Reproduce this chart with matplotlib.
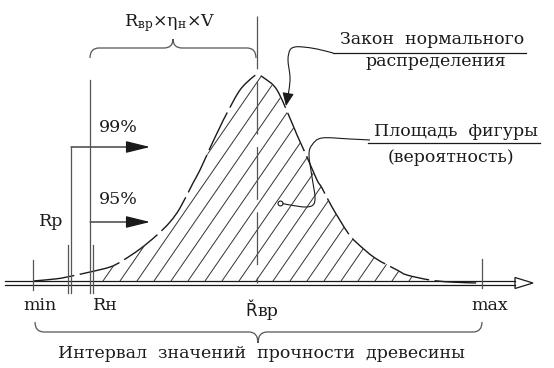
import numpy as np
import matplotlib
matplotlib.use("Agg")
import matplotlib.pyplot as plt
from matplotlib.path import Path
from matplotlib.patches import PathPatch, Polygon, FancyArrowPatch
from matplotlib.collections import LineCollection

plt.rcParams["lines.scale_dashes"] = False
plt.rcParams["mathtext.fontset"] = "custom"
plt.rcParams["mathtext.rm"] = "DejaVu Serif"

# normal-law curve, heights above the value axis
curve_x = [33, 55, 67, 90, 110, 122, 140, 157, 170, 180, 193, 200, 210, 220, 227,
           240, 253, 258, 264, 277, 292, 297, 307, 317, 322, 332, 348, 357, 375,
           397, 407, 430, 450, 477]
curve_h = [2, 4, 6, 11, 16, 22, 34, 48, 61, 75, 100, 113, 135, 156, 170,
           193, 206, 208, 205, 193, 160, 148, 126, 103, 95, 76, 50, 40, 25,
           13, 8, 3, 1, 0]

# marked values on the axis
x_min, x_rp, x_rn, x_mean, x_max = 33, 71, 90, 257, 482
hatch_from, hatch_to = 95, 420
level_99, level_95 = 136, 61

# leader lines to the captions
law_x = [333, 317, 303, 295, 290, 288, 290, 289, 287, 286]
law_h = [230, 234, 236, 236, 233, 223, 206, 193, 183, 177]
area_x = [370, 350, 322, 312, 309, 312, 315, 313, 305, 290, 280]
area_h = [143, 144, 145, 138, 128, 106, 86, 78, 76, 78, 80]

FONT = "DejaVu Serif"
INK = "#1a1a1a"
GREY = "#555555"


def smooth_path(xs, ys):
    pts = np.column_stack([xs, ys]).astype(float)
    verts = [pts[0]]
    codes = [Path.MOVETO]
    n = len(pts)
    for i in range(n - 1):
        p0 = pts[max(i - 1, 0)]
        p1 = pts[i]
        p2 = pts[i + 1]
        p3 = pts[min(i + 2, n - 1)]
        verts += [p1 + (p2 - p0) / 6, p2 - (p3 - p1) / 6, p2]
        codes += [Path.CURVE4] * 3
    return Path(verts, codes)


def brace(ax, x0, x1, xt, y_end, y_line, y_tip, r=9):
    v = [(x0, y_end), (x0, y_line), (x0 + r, y_line),
         (xt - r, y_line), (xt, y_line), (xt, y_tip),
         (xt, y_line), (xt + r, y_line),
         (x1 - r, y_line), (x1, y_line), (x1, y_end)]
    c = [Path.MOVETO, Path.CURVE3, Path.CURVE3,
         Path.LINETO, Path.CURVE3, Path.CURVE3,
         Path.CURVE3, Path.CURVE3,
         Path.LINETO, Path.CURVE3, Path.CURVE3]
    ax.add_patch(PathPatch(Path(v, c), fill=False, ec=GREY, lw=0.9))


fig = plt.figure(figsize=(5.54, 3.68), dpi=100)
ax = fig.add_axes([0, 0, 1, 1])
ax.set_xlim(0, 554)
ax.set_ylim(-85, 283)
ax.axis("off")

# hatched area under the curve
cx = np.array(curve_x)
ch = np.array(curve_h)
keep = (cx >= hatch_from) & (cx <= hatch_to)
poly = [(hatch_from, 2)] + list(zip(cx[keep], ch[keep])) + [(hatch_to, 2)]
clip = Polygon(poly, closed=True, fc="none", ec="none")
ax.add_patch(clip)
slope = 1.45
segs = [[(c, 2), (c + 230 / slope, 232)] for c in np.arange(103 - 17 * 12, 440, 17)]
hatch = LineCollection(segs, colors="#333333", linewidths=0.7)
ax.add_collection(hatch)
hatch.set_clip_path(clip)

# the curve itself, drawn broken
ax.add_patch(PathPatch(smooth_path(curve_x, curve_h), fill=False, ec=INK,
                       lw=1.0, linestyle=(0, (30, 4))))

# value axis: double line with hollow arrow
ax.plot([5, 515], [2, 2], color=INK, lw=0.9)
ax.plot([5, 515], [-2, -2], color=INK, lw=0.9)
ax.add_patch(Polygon([(515, 5.5), (533, 0), (515, -5.5)], closed=True,
                     fc="white", ec=INK, lw=0.9))

# vertical marks
ax.plot([x_min, x_min], [23, -7], color=GREY, lw=0.9)
ax.plot([x_max, x_max], [24, -5], color=GREY, lw=0.9)
ax.plot([x_rp, x_rp], [level_99, -10], color=GREY, lw=0.9)
ax.plot([x_rp - 3, x_rp - 3], [38, -10], color=GREY, lw=0.9)
ax.plot([x_rn, x_rn], [203, -10], color=GREY, lw=0.9)
ax.plot([x_rn + 3, x_rn + 3], [38, -10], color=GREY, lw=0.9)
ax.plot([x_mean, x_mean], [267, 0], color=GREY, lw=0.9,
        linestyle=(0, (38, 9)))

# probability arrows
for x0, lev in [(x_rp, level_99), (x_rn, level_95)]:
    ax.add_patch(FancyArrowPatch((x0, lev), (150, lev),
                                 arrowstyle="-|>,head_length=1.5,head_width=0.37",
                                 mutation_scale=10, color=INK, lw=0.9,
                                 shrinkA=0, shrinkB=0))

# braces
brace(ax, x_rn, x_mean - 1, 173, 225, 235, 244)
brace(ax, 35, x_max, 258, -39, -49, -60)

# leaders
ax.add_patch(FancyArrowPatch(path=smooth_path(law_x, law_h),
                             arrowstyle="-|>,head_length=0.8,head_width=0.35",
                             mutation_scale=10, color=INK, lw=0.8))
ax.add_patch(PathPatch(smooth_path(area_x, area_h), fill=False, ec=INK, lw=0.8))
ax.plot([area_x[-1]], [area_h[-1]], "o", ms=3.5, mfc="white", mec=INK, mew=0.8)

# captions underlines
ax.plot([333, 526], [230, 230], color=INK, lw=0.9)
ax.plot([368, 540], [140, 140], color=INK, lw=0.9)

txt = dict(family=FONT, fontsize=12.5, color=INK, ha="center", va="center")
ax.text(432, 243, "Закон  нормального", **txt)
ax.text(436, 221, "распределения", **txt)
ax.text(456, 152, "Площадь  фигуры", **txt)
ax.text(451, 126, "(вероятность)", **txt)
ax.text(261, -70, "Интервал  значений  прочности  древесины", **txt)
ax.text(118, 156, "99%", **txt)
ax.text(118, 83, "95%", **txt)
ax.text(51, 61, "Rp", **txt)
ax.text(40, -22, "min", **txt)
ax.text(105, -22, "Rн", **txt)
ax.text(490, -22, "max", **txt)
ax.text(257, -28, "Ř", family="DejaVu Sans", fontsize=12, color=INK,
        ha="right", va="center")
ax.text(257, -28, "вр", family=FONT, fontsize=12.5, color=INK,
        ha="left", va="center")
ax.text(170, 260, r"$\mathrm{R_{вр}×η_{н}×V}$", fontsize=12.5, color=INK,
        ha="center", va="center")

fig.savefig("out.png", dpi=100)
